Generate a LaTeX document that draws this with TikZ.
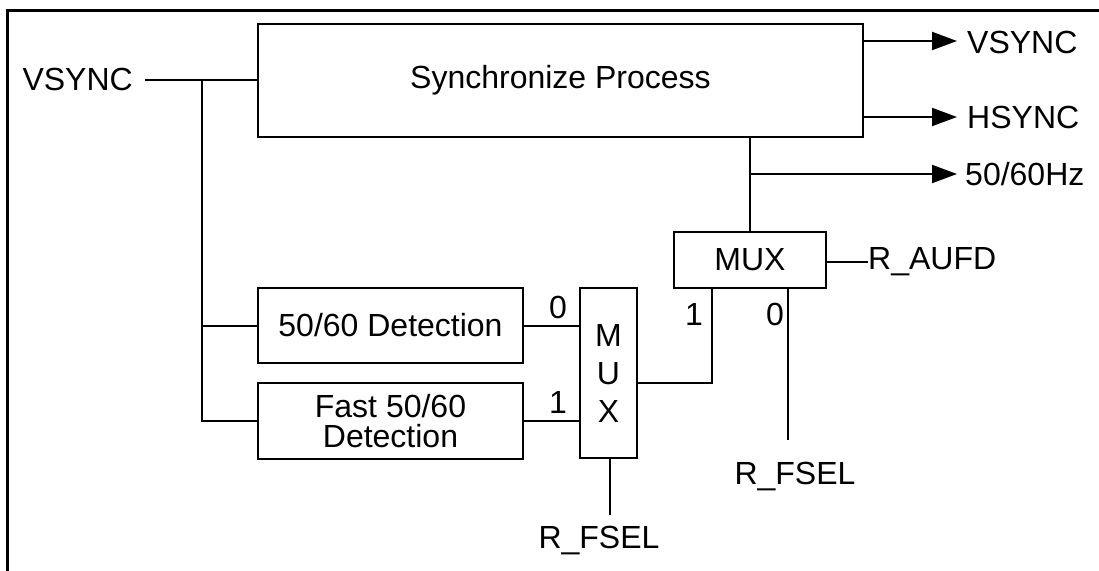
\documentclass[tikz,border=0pt]{standalone}
\usepackage{fontspec}
\setmainfont{Liberation Sans}
\usetikzlibrary{arrows.meta}
\begin{document}
\begin{tikzpicture}[x=1pt,y=-1pt,
  every node/.style={font=\fontsize{32}{30}\selectfont},
  box/.style={draw,line width=2pt,inner sep=0pt,align=center},
  wire/.style={line width=2pt},
  arr/.style={wire,-{Triangle[length=25pt,width=18pt]}},
  lbl/.style={inner sep=0pt}]
\useasboundingbox (0,0) rectangle (1099,570);
\fill[white] (0,0) rectangle (1099,570);
% frame
\draw[line width=3pt] (7,572) -- (7,10) -- (1099,10);
% boxes
\node[box,minimum width=605pt,minimum height=113pt] (sync) at (560.5,80.5) {Synchronize Process};
\node[box,minimum width=152pt,minimum height=56pt] (mux2) at (750,260) {MUX};
\node[box,minimum width=57pt,minimum height=170pt,font=\fontsize{32}{38}\selectfont] (mux1) at (608.5,373) {M\\U\\X};
\node[box,minimum width=265pt,minimum height=75pt] (det1) at (390.5,325.5) {50/60 Detection};
\node[box,minimum width=265pt,minimum height=76pt] (det2) at (390.5,421) {Fast 50/60\\Detection};
% texts
\node[lbl,anchor=east] (vin) at (133,79) {VSYNC};
\node[lbl,anchor=west] (vout) at (967,42) {VSYNC};
\node[lbl,anchor=west] (hout) at (967,117) {HSYNC};
\node[lbl,anchor=west] (hz) at (965,174) {50/60Hz};
\node[lbl,anchor=west] (aufd) at (868,262) {R\_AUFD};
\node[lbl] (fsel2) at (795,476) {R\_FSEL};
\node[lbl] (fsel1) at (599,540) {R\_FSEL};
\node[lbl] (l0a) at (558,307) {0};
\node[lbl] (l1a) at (558,402) {1};
\node[lbl] (l1b) at (694,314) {1};
\node[lbl] (l0b) at (775,314) {0};
% coordinates
\coordinate (jv) at (202,80);
\coordinate (jd1) at (202,326);
\coordinate (jd2) at (202,421);
\coordinate (jhz) at (750,174);
\coordinate (m1o) at (637,383);
\coordinate (m2i1) at (712,383);
\coordinate (m2i0) at (788,440);
\coordinate (m1s) at (610,515);
\coordinate (tv) at (957,41);
\coordinate (th) at (957,117);
\coordinate (tz) at (957,174);
% wires
\draw[wire] (145,80) coordinate (vs) -- (sync.west |- jv);
\draw[wire] (jv) -- (jd2) -- (det2.west |- jd2);
\draw[wire] (jd1) -- (det1.west |- jd1);
\draw[wire] (det1.east |- jd1) -- (mux1.west |- jd1);
\draw[wire] (det2.east |- jd2) -- (mux1.west |- jd2);
\draw[wire] (m1o) -- (m2i1) -- (mux2.south -| m2i1);
\draw[wire] (mux2.south -| m2i0) -- (m2i0);
\draw[wire] (mux1.south -| m1s) -- (m1s);
\draw[wire] (sync.south -| mux2.north) -- (mux2.north);
\draw[wire] (mux2.east |- aufd) -- (aufd.west);
\draw[arr] (sync.east |- tv) -- (tv);
\draw[arr] (sync.east |- th) -- (th);
\draw[arr] (jhz) -- (tz);
\end{tikzpicture}
\end{document}
